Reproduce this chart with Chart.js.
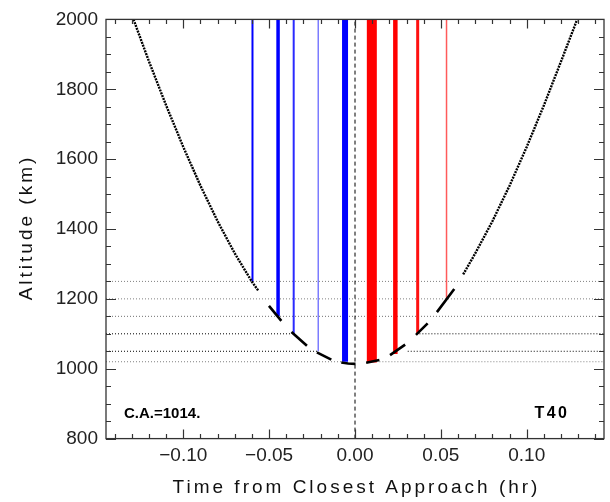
<!DOCTYPE html>
<html><head><meta charset="utf-8">
<script src="https://cdn.jsdelivr.net/npm/chart.js@4.4.0/dist/chart.umd.min.js"></script>
<style>html,body{margin:0;padding:0;background:#fff}#wrap{width:610px;height:502px}</style>
</head><body><div id="wrap"><canvas id="c" width="610" height="502"></canvas></div>
<script>
// ---- tick labels ----
const xTickValues = [-0.10, -0.05, 0.00, 0.05, 0.10];
const xTickLabels = ['\u22120.10', '\u22120.05', '0.00', '0.05', '0.10'];
const yTickValues = [800, 1000, 1200, 1400, 1600, 1800, 2000];
const yTickLabels = ['800', '1000', '1200', '1400', '1600', '1800', '2000'];
const xTitle = 'Time from Closest Approach (hr)';
const yTitle = 'Altitude (km)';
const noteLeft = 'C.A.=1014.';
const noteRight = 'T40';

// ---- trajectory (time hr, altitude km); null separates pieces ----
const upperTime = [-0.129, -0.120, -0.110, -0.100, -0.090, -0.080, -0.070, -0.060, -0.0564, null,
                    0.063, 0.070, 0.080, 0.090, 0.100, 0.110, 0.120, 0.1294];
const upperAlt  = [2000, 1880, 1754, 1635, 1524, 1422, 1330, 1249, 1224, null,
                   1270, 1330, 1422, 1524, 1635, 1754, 1880, 2000];
const lowerTime = [-0.0501, -0.0429, null, -0.037, -0.028, null, -0.0222, -0.0138, null,
                   -0.008, -0.004, 0.0003, null, 0.0065, 0.0142, null, 0.0204, 0.0292, null,
                   0.0355, 0.0423, null, 0.0477, 0.0578];
const lowerAlt  = [1180, 1137, null, 1105, 1066, null, 1047, 1026, null,
                   1018, 1015, 1014, null, 1017, 1025, null, 1039, 1069, null,
                   1097, 1130, null, 1162, 1228];

// ---- measurement bars: time, bottom altitude (top = 2000) ----
const barTime   = [-0.0597, -0.0448, -0.0357, -0.0214, -0.0058, 0.0098, 0.0235, 0.0365, 0.0533];
const barBottom = [1250, 1150, 1100, 1050, 1020, 1018, 1042, 1100, 1200];
const barTop = 2000;

// ---- horizontal reference levels ----
const levelAlt   = [1250, 1200, 1150, 1100, 1100, 1050, 1050, 1020, 1020];
const levelStart = [-0.145, -0.145, -0.145, -0.145, 0.0375, -0.145, 0.0307, -0.145, 0.0142];
const levelEnd   = [0.145, 0.145, 0.145, -0.037, 0.145, -0.022, 0.145, -0.008, 0.145];

// ---- styles (kept apart from data) ----
const barWidths = [2, 3.5, 2, 1.5, 6, 10, 4.5, 3, 1.5];
const barColors = ['#0000ff', '#0000ff', '#2a2aff', '#7c7cff', '#0000ff', '#ff0000', '#ff0000', '#ff1010', '#ff5a5a'];
const levelColors = ['#808080', '#808080', '#707070', '#000000', '#000000', '#000000', '#000000', '#808080', '#808080'];

const pts = (xs, ys) => xs.map((x, i) => ({x: x === null ? NaN : x, y: ys[i]}));

const datasets = [];
datasets.push({data: pts(upperTime, upperAlt), borderColor: '#000', borderWidth: 2.4, borderDash: [2, 1],
  showLine: true, pointRadius: 0, spanGaps: false, order: 0});
datasets.push({data: pts(lowerTime, lowerAlt), borderColor: '#000', borderWidth: 2.6,
  showLine: true, pointRadius: 0, spanGaps: false, order: 0, borderCapStyle: 'butt'});
datasets.push({data: [{x: 0, y: 800}, {x: 0, y: 2000}], borderColor: '#000', borderWidth: 1,
  borderDash: [4, 3], showLine: true, pointRadius: 0, order: 1});
barTime.forEach((t, i) => {
  datasets.push({data: [{x: t, y: barBottom[i]}, {x: t, y: barTop}], borderColor: barColors[i],
    borderWidth: barWidths[i], showLine: true, pointRadius: 0, order: 2, borderCapStyle: 'butt'});
});
levelAlt.forEach((a, i) => {
  datasets.push({data: [{x: levelStart[i], y: a}, {x: levelEnd[i], y: a}], borderColor: levelColors[i],
    borderWidth: 1, borderDash: [1, 2], showLine: true, pointRadius: 0, order: 3});
});

const FONT = '"Liberation Sans", Arial, Helvetica, sans-serif';

const framePlugin = {
  id: 'frame',
  afterDraw(chart) {
    const ctx = chart.ctx, a = chart.chartArea, xs = chart.scales.x, ys = chart.scales.y;
    ctx.save();
    ctx.strokeStyle = '#333';
    ctx.lineWidth = 1.3;
    ctx.strokeRect(a.left, a.top, a.right - a.left, a.bottom - a.top);
    ctx.lineWidth = 1.2;
    ctx.beginPath();
    for (let k = -14; k <= 14; k++) {
      const v = k / 100, px = Math.round(xs.getPixelForValue(v)) + 0.5;
      const len = (k % 5 === 0) ? 9 : 4.5;
      ctx.moveTo(px, a.bottom); ctx.lineTo(px, a.bottom - len);
      ctx.moveTo(px, a.top); ctx.lineTo(px, a.top + len);
    }
    for (let v = 800; v <= 2000; v += 50) {
      const py = Math.round(ys.getPixelForValue(v)) + 0.5;
      const len = (v % 200 === 0) ? 10 : 5;
      ctx.moveTo(a.left, py); ctx.lineTo(a.left + len, py);
      ctx.moveTo(a.right, py); ctx.lineTo(a.right - len, py);
    }
    ctx.stroke();
    // axis titles
    ctx.fillStyle = '#111';
    ctx.font = '19px ' + FONT;
    try { ctx.letterSpacing = '3px'; } catch (e) {}
    ctx.textAlign = 'center';
    ctx.textBaseline = 'middle';
    ctx.fillText(xTitle, (a.left + a.right) / 2 + 1.5, 488);
    ctx.save();
    ctx.translate(27, (a.top + a.bottom) / 2);
    ctx.rotate(-Math.PI / 2);
    ctx.fillText(yTitle, 1.5, 0);
    ctx.restore();
    // notes
    try { ctx.letterSpacing = '0px'; } catch (e) {}
    ctx.fillStyle = '#000';
    ctx.font = 'bold 15px ' + FONT;
    ctx.textBaseline = 'alphabetic';
    ctx.textAlign = 'left';
    ctx.fillText(noteLeft, 124, 418);
    try { ctx.letterSpacing = '2.5px'; } catch (e) {}
    ctx.font = 'bold 16px ' + FONT;
    ctx.textAlign = 'right';
    ctx.fillText(noteRight, 569.5, 418);
    ctx.restore();
  }
};

new Chart(document.getElementById('c'), {
  type: 'scatter',
  data: {datasets},
  options: {
    responsive: false, animation: false, devicePixelRatio: 1,
    layout: {padding: {top: 13, right: 6, left: 0, bottom: 0}},
    plugins: {legend: {display: false}, tooltip: {enabled: false}},
    scales: {
      x: {
        type: 'linear', min: -0.145, max: 0.145,
        afterBuildTicks: s => { s.ticks = xTickValues.map(v => ({value: v})); },
        afterFit: s => { s.height = 63.4; },
        grid: {display: false, drawTicks: false}, border: {display: false},
        ticks: {
          padding: 6, maxRotation: 0, autoSkip: false, color: '#222',
          font: {family: FONT, size: 19},
          callback: v => { const i = xTickValues.findIndex(t => Math.abs(t - v) < 1e-9); return i >= 0 ? xTickLabels[i] : ''; }
        }
      },
      y: {
        type: 'linear', min: 800, max: 2000,
        afterBuildTicks: s => { s.ticks = yTickValues.map(v => ({value: v})); },
        afterFit: s => { s.width = 106; },
        grid: {display: false, drawTicks: false}, border: {display: false},
        ticks: {
          padding: 8, color: '#222', font: {family: FONT, size: 19},
          callback: v => { const i = yTickValues.indexOf(v); return i >= 0 ? yTickLabels[i] : ''; }
        }
      }
    }
  },
  plugins: [framePlugin]
});
</script></body></html>
